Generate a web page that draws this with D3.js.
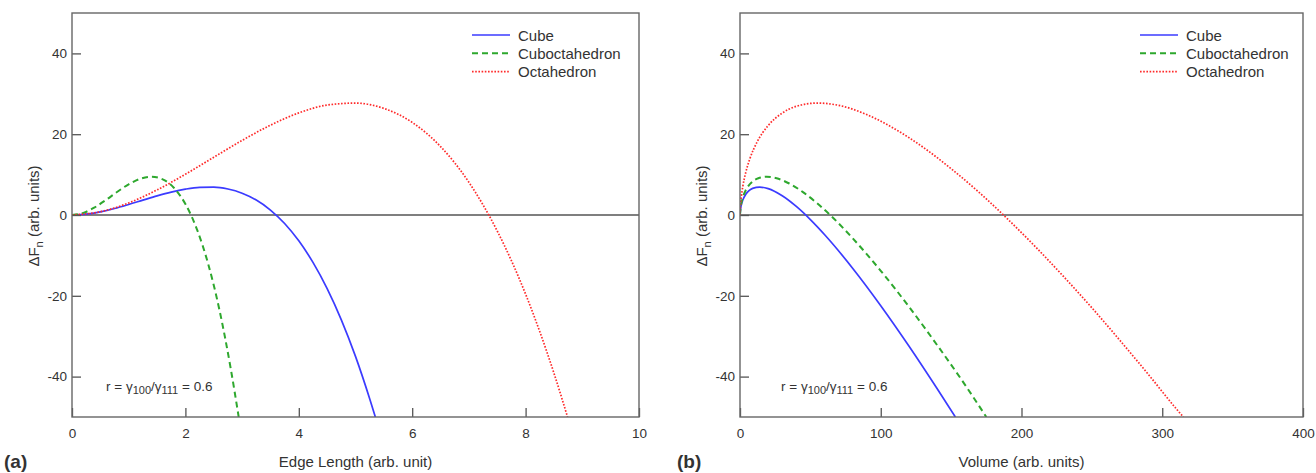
<!DOCTYPE html>
<html>
<meta charset="utf-8">
<script src="https://d3js.org/d3.v7.min.js"></script>
<style>
  body { margin: 0; background: #fff; }
  text { font-family: Arial, "Liberation Sans", sans-serif; fill: #333; }
</style>
<body>
<script>

// values
var seriesNames = ["Cube", "Cuboctahedron", "Octahedron"];
var yTicks = [-40, -20, 0, 20, 40];
var xTicksA = [0, 2, 4, 6, 8, 10];
var xTicksB = [0, 100, 200, 300, 400];

// panel (a): edge length
var cubeL  = [0, 0.25, 0.5, 0.75, 1, 1.25, 1.5, 1.75, 2, 2.25, 2.5, 2.75, 3, 3.25, 3.5, 3.75, 4, 4.25, 4.5, 4.75, 5, 5.25, 5.35];
var cubeFa = [0, 0.21, 0.78, 1.6, 2.6, 3.67, 4.73, 5.67, 6.4, 6.83, 6.88, 6.43, 5.4, 3.7, 1.23, -2.11, -6.4, -11.74, -18.23, -25.95, -35, -45.48, -50];
var cuboL  = [0, 0.2, 0.4, 0.6, 0.8, 1, 1.2, 1.4, 1.6, 1.8, 2, 2.2, 2.4, 2.6, 2.8, 2.94];
var cuboFa = [0, 0.53, 1.88, 3.73, 5.75, 7.6, 8.95, 9.47, 8.83, 6.69, 2.72, -3.41, -12.03, -23.47, -38.07, -50];
var octaL  = [0, 0.5, 1, 1.5, 2, 2.5, 3, 3.5, 4, 4.5, 5, 5.5, 6, 6.5, 7, 7.5, 8, 8.5, 8.74];
var octaFa = [0, 0.81, 2.99, 6.21, 10.09, 14.29, 18.46, 22.23, 25.27, 27.21, 27.7, 26.39, 22.92, 16.94, 8.1, -3.96, -19.6, -39.15, -50];

// panel (b): volume
var cubeV  = [0, 0.5, 1, 2, 4, 6, 9, 14, 20, 30, 40, 50, 60, 80, 100, 120, 140, 153];
var cubeFb = [0, 1.77, 2.6, 3.71, 5.07, 5.89, 6.58, 6.91, 6.53, 4.76, 2.11, -1.14, -4.83, -13.16, -22.44, -32.42, -42.95, -50];
var cuboV  = [0, 0.5, 1, 2, 4, 6, 9, 13, 19, 26, 35, 45, 55, 65, 80, 100, 120, 140, 160, 175];
var cuboFb = [0, 2.02, 3, 4.35, 6.08, 7.21, 8.31, 9.11, 9.48, 9.1, 7.8, 5.6, 2.85, -0.32, -5.74, -13.82, -22.68, -32.17, -42.1, -50];
var octaV  = [0, 0.5, 1, 2, 4, 7, 12, 20, 30, 40, 55, 70, 90, 110, 130, 150, 170, 190, 210, 230, 250, 270, 290, 310, 315];
var octaFb = [0, 3.1, 4.72, 7.08, 10.41, 13.93, 17.98, 22.14, 25.23, 26.9, 27.71, 27.15, 24.86, 21.3, 16.79, 11.47, 5.56, -0.95, -7.9, -15.27, -22.97, -31.07, -39.4, -47.98, -50];

var styles = [
  {color: "#3b3bff", width: 1.7, dash: null},
  {color: "#2ea82e", width: 2, dash: "6,4"},
  {color: "#ff2a2a", width: 1.7, dash: "1.6,1.6"}
];

var svg = d3.select("body").append("svg")
  .attr("width", 1316)
  .attr("height", 473);

function zip(xs, ys) { return xs.map(function(x, i) { return [x, ys[i]]; }); }

function drawPanel(cfg) {
  var x = d3.scaleLinear().domain(cfg.xDomain).range([cfg.left, cfg.right]);
  var y = d3.scaleLinear().domain([-50, 50]).range([417, 13]);
  var g = svg.append("g");

  g.append("clipPath").attr("id", "clip" + cfg.id)
    .append("rect")
    .attr("x", cfg.left).attr("y", 13)
    .attr("width", cfg.right - cfg.left).attr("height", 404);

  // zero line
  g.append("line")
    .attr("x1", cfg.left).attr("x2", cfg.right)
    .attr("y1", y(0)).attr("y2", y(0))
    .attr("stroke", "#555").attr("stroke-width", 1.5);

  var line = d3.line()
    .x(function(d) { return x(d[0]); })
    .y(function(d) { return y(d[1]); })
    .curve(d3.curveMonotoneX);

  cfg.series.forEach(function(s, i) {
    g.append("path")
      .attr("d", line(s))
      .attr("clip-path", "url(#clip" + cfg.id + ")")
      .attr("fill", "none")
      .attr("stroke", styles[i].color)
      .attr("stroke-width", styles[i].width)
      .attr("stroke-dasharray", styles[i].dash);
  });

  // axes (plain hyphen minus like the original)
  var fmt = function(d) { return String(d); };
  var yAx = d3.axisLeft(y).tickValues(yTicks).tickFormat(fmt).tickSizeInner(-9).tickSizeOuter(0).tickPadding(5);
  var xAx = d3.axisBottom(x).tickValues(cfg.xTicks).tickFormat(fmt).tickSizeInner(-9).tickSizeOuter(0).tickPadding(11);

  var yG = g.append("g").attr("transform", "translate(" + cfg.left + ",0)").call(yAx);
  var xG = g.append("g").attr("transform", "translate(0,417)").call(xAx);
  [yG, xG].forEach(function(a) {
    a.select(".domain").remove();
    a.selectAll("line").attr("stroke", "#555").attr("stroke-width", 1.3);
    a.selectAll("text").style("font-size", "13.5px").attr("fill", "#2a2a2a");
  });

  // frame
  g.append("rect")
    .attr("x", cfg.left).attr("y", 13)
    .attr("width", cfg.right - cfg.left).attr("height", 404)
    .attr("fill", "none").attr("stroke", "#666").attr("stroke-width", 1.4);

  // legend
  seriesNames.forEach(function(n, i) {
    var ly = 35 + i * 18.3;
    g.append("line")
      .attr("x1", cfg.left + 400).attr("x2", cfg.left + 438)
      .attr("y1", ly).attr("y2", ly)
      .attr("stroke", styles[i].color)
      .attr("stroke-width", styles[i].width)
      .attr("stroke-dasharray", styles[i].dash);
    g.append("text")
      .attr("x", cfg.left + 446).attr("y", ly + 5.5)
      .style("font-size", "15px").attr("fill", "#2a2a2a")
      .text(n);
  });

  // annotation
  var ann = g.append("text")
    .attr("x", cfg.left + cfg.annDx).attr("y", 391)
    .style("font-size", "13.5px").attr("fill", "#444");
  ann.append("tspan").text("r = \u03b3");
  ann.append("tspan").attr("dy", 3).style("font-size", "11px").text("100");
  ann.append("tspan").attr("dy", -3).text("/\u03b3");
  ann.append("tspan").attr("dy", 3).style("font-size", "11px").text("111");
  ann.append("tspan").attr("dy", -3).text(" = 0.6");

  // axis titles
  g.append("text")
    .attr("x", (cfg.left + cfg.right) / 2).attr("y", 467)
    .attr("text-anchor", "middle")
    .style("font-size", "15px").attr("fill", "#2a2a2a")
    .text(cfg.xTitle);

  var yt = g.append("text")
    .attr("transform", "translate(" + (cfg.left - 33) + ",216) rotate(-90)")
    .attr("text-anchor", "middle")
    .style("font-size", "15px").attr("fill", "#2a2a2a");
  yt.append("tspan").text("\u0394F");
  yt.append("tspan").attr("dy", 4).style("font-size", "11px").text("n");
  yt.append("tspan").attr("dy", -4).text(" (arb. units)");

  g.append("text")
    .attr("x", cfg.left - cfg.labDx).attr("y", 468)
    .style("font-size", "19px").style("font-weight", "bold")
    .attr("fill", "#111")
    .text(cfg.label);
}

drawPanel({
  id: "a", left: 72, right: 639, xDomain: [0, 10], xTicks: xTicksA,
  series: [zip(cubeL, cubeFa), zip(cuboL, cuboFa), zip(octaL, octaFa)],
  xTitle: "Edge Length (arb. unit)", label: "(a)", labDx: 68, annDx: 34
});

drawPanel({
  id: "b", left: 740, right: 1303, xDomain: [0, 400], xTicks: xTicksB,
  series: [zip(cubeV, cubeFb), zip(cuboV, cuboFb), zip(octaV, octaFb)],
  xTitle: "Volume (arb. units)", label: "(b)", labDx: 63, annDx: 41
});

</script>
</body>
</html>
